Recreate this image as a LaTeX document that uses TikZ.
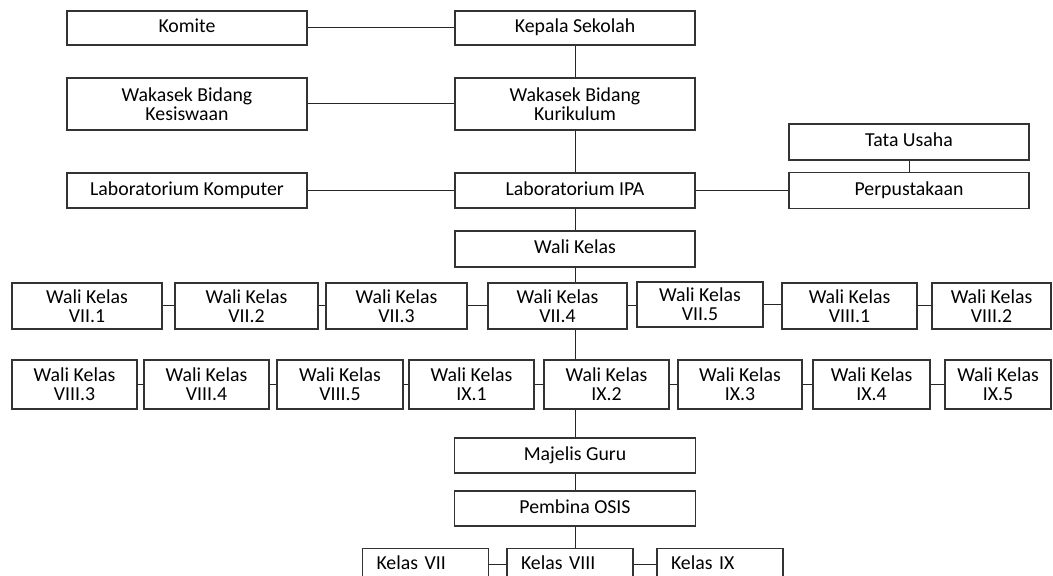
\documentclass[tikz,border=0pt]{standalone}
\usepackage{fontspec}
\setmainfont{Carlito}
\usetikzlibrary{positioning}

\tikzset{
  kotak/.style={draw=black!80, line width=0.6pt, align=center, inner sep=0pt,
    font=\fontsize{9.9}{9.7}\selectfont},
  satu/.style={kotak, text height=6.9pt, text depth=2.1pt},
  kelas/.style={satu, align=left, anchor=north, text width=49pt, inner xsep=7pt,
    minimum height=16pt},
  garis/.style={black!85, line width=0.5pt}
}

\begin{document}
\begin{tikzpicture}[x=0.5pt,y=-0.5pt]
  \useasboundingbox (0,0) rectangle (1053,576);
  \clip (0,0) rectangle (1053,576);
  \foreach \n/\x/\y/\w/\h/\t in {
    komite/187/28/240/34/Komite,
    kepsek/575/28/240/34/Kepala Sekolah,
    tu/909/142/240/36/Tata Usaha,
    labkom/187/190.5/240/35/Laboratorium Komputer,
    labipa/575/190.5/240/35/Laboratorium IPA,
    perpus/909/190.5/240/36/Perpustakaan,
    walikelas/575/249/240/36/Wali Kelas,
    majelis/575/455.5/241/35/Majelis Guru,
    pembina/575/508.5/241/35/Pembina OSIS}{
      \node[satu, minimum width=\w*0.5pt, minimum height=\h*0.5pt] (\n) at (\x,\y) {\t};
  }
  \node[kotak, minimum width=120pt, minimum height=26pt] (kesis) at (187,104) {Wakasek Bidang\\Kesiswaan};
  \node[kotak, minimum width=120pt, minimum height=26pt] (kurik) at (575,104) {Wakasek Bidang\\Kurikulum};
  \foreach \n/\x/\y/\w/\h/\t in {
    w71/87/306/150/46/VII.1,
    w72/246.5/306/143/46/VII.2,
    w73/396.5/306/141/46/VII.3,
    w74/557.5/306/139/46/VII.4,
    w75/700/304.5/126/45/VII.5,
    w81/849.5/306/135/46/VIII.1,
    w82/991.5/306/119/46/VIII.2,
    w83/74.5/384.5/125/49/VIII.3,
    w84/206.5/384.5/125/49/VIII.4,
    w85/340/384.5/126/49/VIII.5,
    w91/471.5/384.5/125/49/IX.1,
    w92/606.5/384.5/125/49/IX.2,
    w93/740/384.5/124/49/IX.3,
    w94/871.5/384.5/117/49/IX.4,
    w95/998/384.5/106/49/IX.5}{
      \node[kotak, minimum width=\w*0.5pt, minimum height=\h*0.5pt] (\n) at (\x,\y) {Wali Kelas\\\t};
  }
  \node[kelas] (k7) at (425.5,548) {Kelas VII};
  \node[kelas] (k8) at (570,548) {Kelas VIII};
  \node[kelas] (k9) at (720,548) {Kelas IX};

  \draw[garis] (komite) -- (kepsek);
  \draw[garis] (kesis) -- (kurik);
  \draw[garis] (labkom) -- (labipa);
  \draw[garis] (labipa.east) -- (labipa.east -| perpus.west);
  \draw[garis] (tu) -- (perpus);
  \draw[garis] (kepsek) -- (kurik);
  \draw[garis] (kurik) -- (labipa);
  \draw[garis] (labipa) -- (walikelas);
  \draw[garis] (walikelas.south) -- (walikelas.south |- w74.north);
  \draw[garis] (walikelas.south |- w74.south) -- (walikelas.south |- w92.north);
  \draw[garis] (majelis.north |- w92.south) -- (majelis.north);
  \draw[garis] (majelis) -- (pembina);
  \draw[garis] (pembina.south) -- (pembina.south |- k8.north);
  \foreach \a/\b in {w71/w72,w72/w73,w73/w74,w74/w75,w75/w81,w81/w82,
    w83/w84,w84/w85,w85/w91,w91/w92,w92/w93,w93/w94,w94/w95,k7/k8,k8/k9}
    \draw[garis] (\a.east) -- (\a.east -| \b.west);
\end{tikzpicture}
\end{document}
